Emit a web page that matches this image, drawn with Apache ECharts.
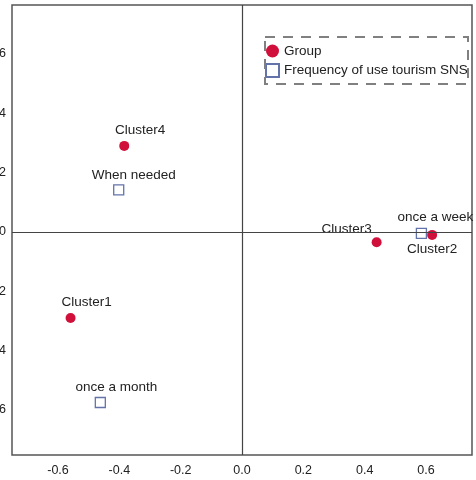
<!DOCTYPE html>
<html><head><meta charset="utf-8">
<script src="https://cdn.jsdelivr.net/npm/echarts@6/dist/echarts.min.js"></script>
<style>html,body{margin:0;padding:0;background:#fff}#c{width:476px;height:480px}</style>
</head><body><div id="c"></div>
<script>
// Data
var groupNames = ['Cluster1', 'Cluster2', 'Cluster3', 'Cluster4'];
var groupX = [-0.559, 0.620, 0.439, -0.384];
var groupY = [-0.290, -0.010, -0.035, 0.290];
var freqNames = ['When needed', 'once a week', 'once a month'];
var freqX = [-0.402, 0.585, -0.462];
var freqY = [0.142, -0.005, -0.575];
var xTicks = [-0.6, -0.4, -0.2, 0.0, 0.2, 0.4, 0.6];
var yTicks = [-0.6, -0.4, -0.2, 0.0, 0.2, 0.4, 0.6];
var seriesNames = ['Group', 'Frequency of use tourism SNS'];

// label styling (offsets in px)
var groupLabelOffsets = [[16, -16], [0, 14], [-30, -13], [16, -16]];
var freqLabelOffsets = [[15, -15], [14, -16], [16, -15]];

var font = '"Liberation Sans", Arial, sans-serif';
function mk(names, xs, ys, offs) {
  return names.map(function (n, i) {
    return { name: n, value: [xs[i], ys[i]],
      label: { show: true, position: 'inside', offset: offs[i], formatter: n,
        color: '#222', fontSize: 13.5, fontFamily: font } };
  });
}
function isTick(list, v) {
  return list.some(function (t) { return Math.abs(t - v) < 1e-6; });
}
var chart = echarts.init(document.getElementById('c'), null, { renderer: 'canvas' });
chart.setOption({
  animation: false,
  backgroundColor: '#fff',
  grid: { left: 12, right: 4, top: 5, bottom: 25, show: true, borderColor: '#555', borderWidth: 1.5,
    containLabel: false, outerBoundsMode: 'none' },
  xAxis: {
    type: 'value', min: -0.75, max: 0.75,
    axisLine: { show: false }, axisTick: { show: false }, splitLine: { show: false },
    axisLabel: { customValues: xTicks, margin: 9, color: '#222', fontSize: 12.5, fontFamily: font,
      formatter: function (v) { return isTick(xTicks, v) ? v.toFixed(1) : ''; } }
  },
  yAxis: {
    type: 'value', min: -0.752, max: 0.765,
    axisLine: { show: false }, axisTick: { show: false }, splitLine: { show: false },
    axisLabel: { customValues: yTicks, margin: 6, color: '#222', fontSize: 12.5, fontFamily: font,
      formatter: function (v) { return isTick(yTicks, v) ? v.toFixed(1) : ''; } }
  },
  legend: {
    orient: 'vertical', left: 265, top: 44, padding: 0, itemWidth: 13, itemHeight: 13, itemGap: 5,
    textStyle: { color: '#222', fontSize: 13.5, fontFamily: font },
    data: seriesNames
  },
  graphic: [{
    type: 'rect', shape: { x: 265, y: 37, width: 203, height: 47 },
    style: { fill: 'none', stroke: '#808080', lineWidth: 2, lineDash: [10, 8] }, silent: true, z: 10
  }],
  series: [
    {
      name: seriesNames[0], type: 'scatter', symbol: 'circle', symbolSize: 10,
      itemStyle: { color: '#d0103a', opacity: 1 },
      data: mk(groupNames, groupX, groupY, groupLabelOffsets),
      markLine: {
        silent: true, symbol: 'none', animation: false,
        label: { show: false },
        lineStyle: { color: '#444', width: 1.2, type: 'solid' },
        data: [{ xAxis: 0 }, { yAxis: 0 }]
      },
      z: 3
    },
    {
      name: seriesNames[1], type: 'scatter', symbol: 'rect', symbolSize: 10,
      itemStyle: { color: '#fff', borderColor: '#6373aa', borderWidth: 1.3, opacity: 1 },
      data: mk(freqNames, freqX, freqY, freqLabelOffsets),
      z: 2
    }
  ]
});
</script></body></html>
